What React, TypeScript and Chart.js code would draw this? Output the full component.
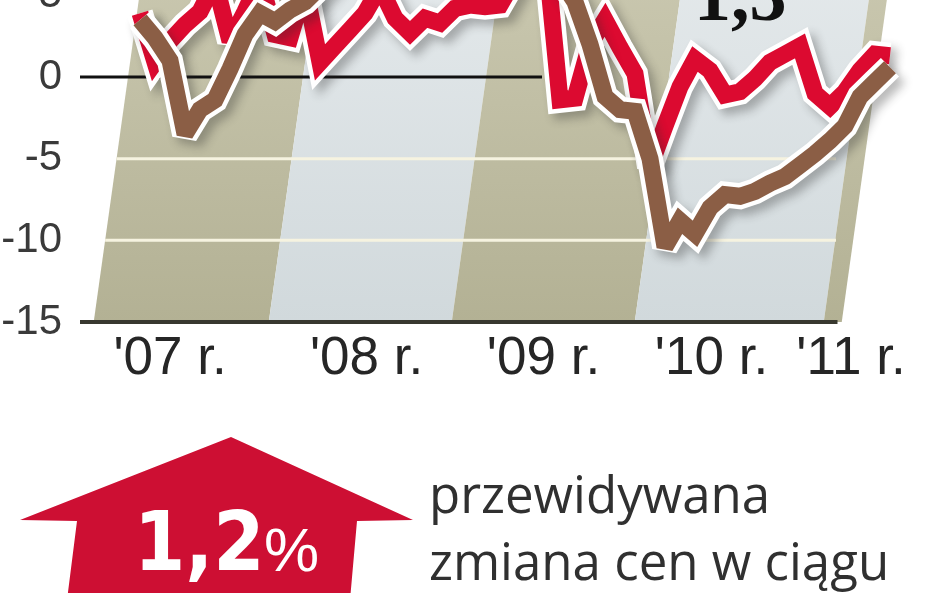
import React, { useEffect, useRef } from 'react';
import { Chart, registerables } from 'chart.js';

Chart.register(...registerables);

// Monthly readings, Jan 2007 (index 0) .. Mar 2011 (index 50)
const redValues = [
  3.9, 0.9, 2.2, 3.2, 4.0, 5.8, 2.2, 4.0, 6.0, 2.6, 2.4, 5.5,
  0.9, 1.9, 2.9, 3.9, 5.5, 3.6, 2.7, 3.6, 3.3, 4.2, 4.4, 4.3,
  4.4, 6.0, 8.0, 8.0, -1.4, -1.3, 2.0, 3.5, 1.8, 0.2, -5.5, -3.0,
  -0.6, 1.1, 0.4, -1.1, -0.9, -0.1, 0.9, 1.4, 1.9, -1.0, -1.8, -0.9,
  0.4, 1.4, 1.3,
];
const brownValues = [
  3.5, 2.4, 1.0, -3.5, -2.0, -1.4, 0.5, 2.6, 3.9, 3.4, 4.1, 4.6,
  5.5, 6.5, 7.5, 8.0, 7.0, 9.0, 10.0, 9.0, 8.5, 10.0, 9.0, 8.0,
  9.0, 8.0, 7.0, 7.5, 6.0, 4.6, 2.0, -1.2, -2.0, -2.1, -5.0, -10.4,
  -8.8, -9.6, -8.0, -7.2, -7.3, -7.0, -6.5, -6.1, -5.4, -4.7, -3.9, -3.0,
  -1.2, -0.3, 0.6,
];
const yearTickPositions = [2.0, 15.1, 26.9, 38.1, 47.4];
const yearLabels = ["'07 r.", "'08 r.", "'09 r.", "'10 r.", "'11 r."];
const yTickValues = [-15, -10, -5, 0, 5];
const gridValues = [-5, -10];

const RED = '#dc0a30';
const BROWN = '#8b5e45';

const backgroundPlugin = {
  id: 'bands',
  beforeDatasetsDraw(chart: any) {
    const { ctx, scales } = chart;
    const xs = scales.x;
    const ys = scales.y;
    const y0 = ys.getPixelForValue(0);
    const yb = ys.getPixelForValue(-15);
    const slant = 0.14;
    const edges = [-0.8, 10.87, 23.07, 35.27, 47.87, 49.07];
    const edgeX = (e: number, y: number) => xs.getPixelForValue(e) + slant * (y0 - y);
    const top = 0;
    ctx.save();
    for (let i = 0; i < edges.length - 1; i++) {
      const g = ctx.createLinearGradient(0, top, 0, yb);
      if (i % 2 === 0) {
        g.addColorStop(0, '#cac8b0');
        g.addColorStop(1, '#b3b194');
      } else {
        g.addColorStop(0, '#e4e9eb');
        g.addColorStop(1, '#d1d9dc');
      }
      ctx.fillStyle = g;
      ctx.beginPath();
      ctx.moveTo(edgeX(edges[i], top), top);
      ctx.lineTo(edgeX(edges[i + 1], top), top);
      ctx.lineTo(edgeX(edges[i + 1], yb), yb);
      ctx.lineTo(edgeX(edges[i], yb), yb);
      ctx.closePath();
      ctx.fill();
    }
    // light grid lines
    ctx.strokeStyle = '#f6f3e0';
    ctx.lineWidth = 3;
    gridValues.forEach((v) => {
      const y = ys.getPixelForValue(v);
      ctx.beginPath();
      ctx.moveTo(edgeX(edges[0], y), y);
      ctx.lineTo(xs.getPixelForValue(46.4), y);
      ctx.stroke();
    });
    // zero line
    ctx.strokeStyle = '#111111';
    ctx.lineWidth = 3;
    ctx.beginPath();
    ctx.moveTo(chart.chartArea.left, y0);
    ctx.lineTo(xs.getPixelForValue(26.8), y0);
    ctx.stroke();
    // bottom axis line
    ctx.strokeStyle = '#38382f';
    ctx.lineWidth = 4;
    ctx.beginPath();
    ctx.moveTo(chart.chartArea.left, yb);
    ctx.lineTo(xs.getPixelForValue(46.5), yb);
    ctx.stroke();
    ctx.restore();
  },
  beforeDatasetDraw(chart: any, args: any) {
    const ds = chart.data.datasets[args.index];
    const ctx = chart.ctx;
    ctx.save();
    ctx.miterLimit = 2.5;
    if (ds.outline) {
      ctx.shadowColor = 'rgba(40,40,40,0.32)';
      ctx.shadowBlur = 10;
      ctx.shadowOffsetX = 6;
      ctx.shadowOffsetY = 6;
    }
  },
  afterDatasetDraw(chart: any) {
    chart.ctx.restore();
  },
};

function makeSeries(values: number[], color: string, width: number, order: number, outline: boolean) {
  return {
    data: values.map((y, i) => ({ x: i, y })),
    borderColor: color,
    backgroundColor: color,
    borderWidth: width,
    pointRadius: 0,
    pointHoverRadius: 0,
    tension: 0,
    order,
    clip: false,
    borderJoinStyle: 'miter',
    borderCapStyle: 'butt',
    fill: false,
    outline,
  };
}

export default function App() {
  const canvasRef = useRef<HTMLCanvasElement | null>(null);

  useEffect(() => {
    if (!canvasRef.current) return;
    const chart = new Chart(canvasRef.current, {
      type: 'line',
      data: {
        datasets: [
          makeSeries(redValues, '#ffffff', 26, 4, true),
          makeSeries(redValues, RED, 17, 3, false),
          makeSeries(brownValues, '#ffffff', 26, 2, true),
          makeSeries(brownValues, BROWN, 17, 1, false),
        ] as any,
      },
      options: {
        animation: false,
        responsive: false,
        devicePixelRatio: 1,
        events: [],
        layout: { padding: { top: 19, right: 48, bottom: 0, left: 0 } },
        plugins: { legend: { display: false }, tooltip: { enabled: false } },
        scales: {
          x: {
            type: 'linear',
            min: -4,
            max: 50.667,
            grid: { display: false, drawTicks: false },
            border: { display: false },
            afterBuildTicks: (scale: any) => {
              scale.ticks = yearTickPositions.map((v) => ({ value: v }));
            },
            afterFit: (scale: any) => {
              scale.height = 271;
              scale.paddingLeft = 0;
              scale.paddingRight = 0;
            },
            ticks: {
              autoSkip: false,
              maxRotation: 0,
              padding: 6,
              color: '#262626',
              font: { family: "'Liberation Sans', Arial, sans-serif", size: 53 },
              callback: (_v: any, i: number) => yearLabels[i],
            },
          },
          y: {
            type: 'linear',
            min: -15,
            max: 6,
            grid: { display: false, drawTicks: false },
            border: { display: false },
            afterBuildTicks: (scale: any) => {
              scale.ticks = yTickValues.map((v) => ({ value: v }));
            },
            afterFit: (scale: any) => {
              scale.width = 80;
              scale.paddingTop = 0;
              scale.paddingBottom = 0;
            },
            ticks: {
              padding: 18,
              color: '#3a3a3a',
              font: { family: "'Liberation Sans', Arial, sans-serif", size: 42 },
              callback: (v: any) => String(v),
            },
          },
        },
      } as any,
      plugins: [backgroundPlugin],
    });
    return () => chart.destroy();
  }, []);

  return (
    <div
      style={{
        position: 'fixed',
        left: 0,
        top: 0,
        width: 948,
        height: 593,
        overflow: 'hidden',
        background: '#ffffff',
      }}
    >
      <canvas
        ref={canvasRef}
        width={948}
        height={633}
        style={{ position: 'absolute', left: 0, top: -40, width: 948, height: 633 }}
      />
      <div
        style={{
          position: 'absolute',
          left: 0,
          top: 0,
          width: 948,
          height: 593,
          background: '#cd0f33',
          clipPath:
            'polygon(231px 437px, 413px 520px, 357px 521px, 350px 600px, 67px 600px, 77px 521px, 20px 520px)',
        }}
      />
      <span
        style={{
          position: 'absolute',
          left: 134,
          top: 501,
          fontFamily: "'DejaVu Sans Condensed', 'DejaVu Sans', sans-serif",
          fontStretch: 'condensed',
          fontWeight: 'bold',
          fontSize: 82,
          lineHeight: '82px',
          color: '#ffffff',
          whiteSpace: 'nowrap',
        }}
      >
        1,2
      </span>
      <span
        style={{
          position: 'absolute',
          left: 264,
          top: 519,
          fontFamily: "'Liberation Sans Narrow', 'Liberation Sans', sans-serif",
          fontSize: 62,
          lineHeight: '62px',
          color: '#ffffff',
          whiteSpace: 'nowrap',
        }}
      >
        %
      </span>
      <div
        style={{
          position: 'absolute',
          left: 429,
          top: 460,
          fontFamily: "'Open Sans', sans-serif",
          fontSize: 51,
          lineHeight: '67px',
          color: '#303030',
          whiteSpace: 'nowrap',
        }}
      >
        <div>przewidywana</div>
        <div>zmiana cen w ciągu</div>
      </div>
      <span
        style={{
          position: 'absolute',
          left: 694,
          top: -42,
          fontFamily: "'Liberation Serif', serif",
          fontWeight: 'bold',
          fontSize: 74,
          lineHeight: '74px',
          color: '#111111',
          whiteSpace: 'nowrap',
        }}
      >
        1,3
      </span>
    </div>
  );
}
